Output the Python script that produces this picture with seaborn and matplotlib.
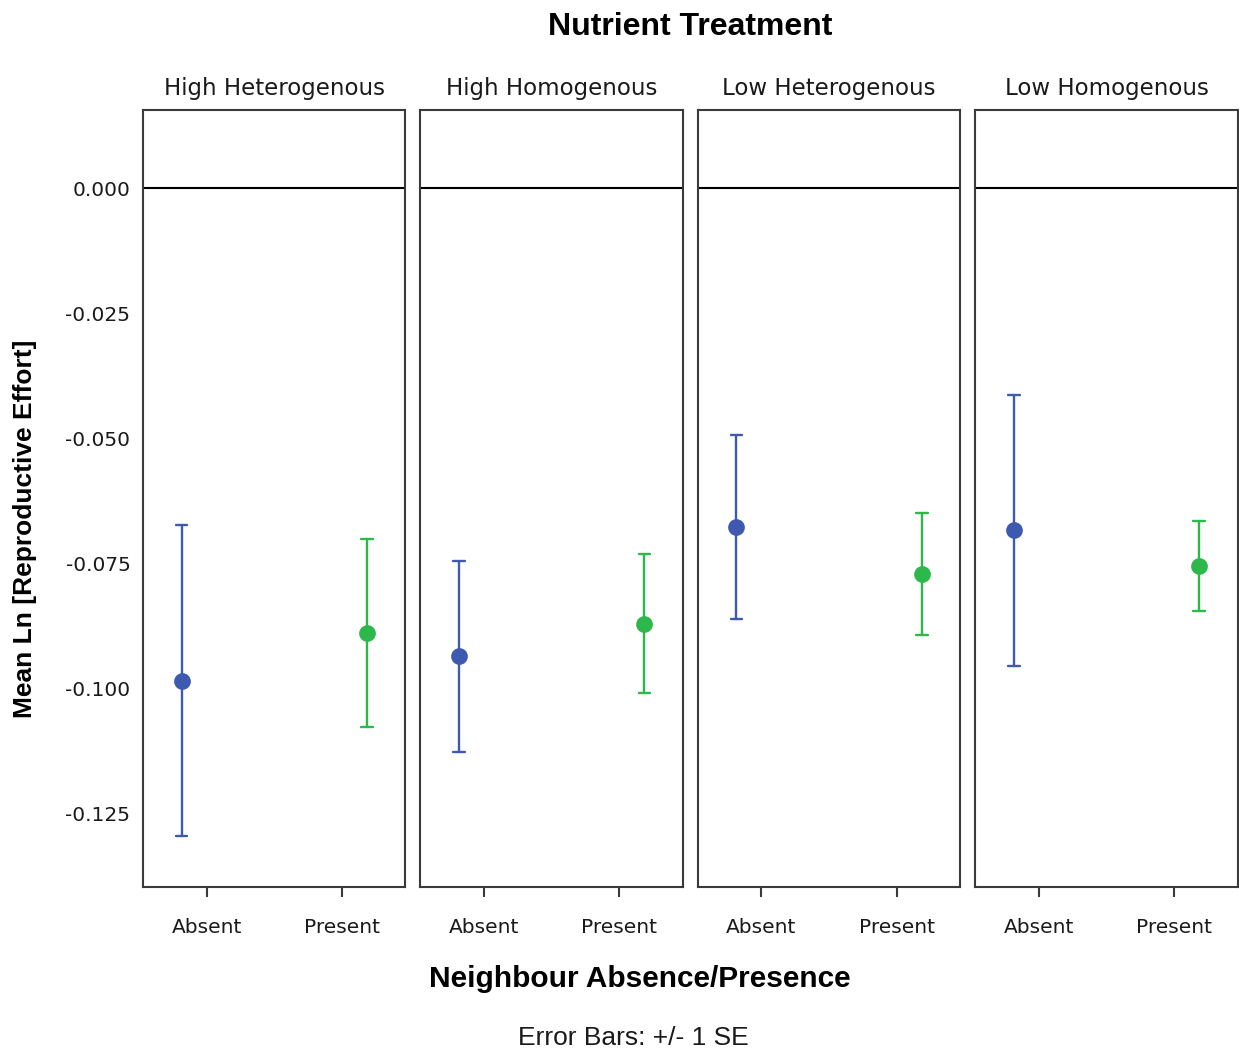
import numpy as np
import pandas as pd
import seaborn as sns
import matplotlib.pyplot as plt

panels = ["High Heterogenous", "High Homogenous", "Low Heterogenous", "Low Homogenous"]
neighbour = ["Absent", "Present"]

absent_mean = [-0.0986, -0.0936, -0.0678, -0.0684]
absent_lower = [-0.1296, -0.1128, -0.0862, -0.0956]
absent_upper = [-0.0674, -0.0746, -0.0494, -0.0414]

present_mean = [-0.0890, -0.0872, -0.0772, -0.0756]
present_lower = [-0.1078, -0.1010, -0.0894, -0.0846]
present_upper = [-0.0702, -0.0732, -0.0650, -0.0666]

colors = {"Absent": "#3d59b0", "Present": "#2cb84a"}

rows = []
for i, p in enumerate(panels):
    for lvl, lo, mu, hi in (("Absent", absent_lower[i], absent_mean[i], absent_upper[i]),
                            ("Present", present_lower[i], present_mean[i], present_upper[i])):
        for v in (lo, mu, hi):
            rows.append({"panel": p, "neighbour": lvl, "value": v})
df = pd.DataFrame(rows)

sns.set_theme(style="white")
plt.rcParams["font.family"] = ["DejaVu Sans"]

g = sns.catplot(
    data=df, x="neighbour", y="value", hue="neighbour", col="panel",
    order=neighbour, hue_order=neighbour, col_order=panels,
    kind="point", estimator="median",
    errorbar=lambda v: (v.min(), v.max()),
    dodge=0.37, palette=colors, capsize=0.085, linestyle="none",
    markersize=10, err_kws={"linewidth": 1.7},
    legend=False, height=5, aspect=0.5, sharey=True,
)
fig = g.figure
fig.set_size_inches(12.39, 10.53)
fig.subplots_adjust(left=0.1154, right=0.999, top=0.8955, bottom=0.1576, wspace=0.057)

g.set_titles("{col_name}", size=16.5, pad=10.5)
g.set_axis_labels("", "")
for k, ax in enumerate(g.axes.flat):
    ax.set_xlim(-0.47, 1.47)
    ax.set_ylim(-0.1398, 0.0156)
    ax.axhline(0, color="black", linewidth=1.5, zorder=0)
    for s in ax.spines.values():
        s.set_visible(True)
        s.set_color("#3a3a3a")
        s.set_linewidth(1.5)
    ax.tick_params(axis="x", which="both", bottom=True, length=7, width=1.5,
                   color="#3a3a3a", labelsize=14.5, pad=15, labelcolor="#1a1a1a")
    ax.tick_params(axis="y", left=False, labelsize=14.5, pad=3, labelcolor="#1a1a1a")
    ax.set_yticks([0.0, -0.025, -0.05, -0.075, -0.1, -0.125])
    ax.set_yticklabels(["0.000", "-0.025", "-0.050", "-0.075", "-0.100", "-0.125"])
    if k > 0:
        ax.tick_params(axis="y", labelleft=False)
    ax.set_xlabel("")
    ax.set_ylabel("")
    ax.title.set_color("#1a1a1a")

fig.text(0.557, 0.9745, "Nutrient Treatment", ha="center", va="center",
         fontsize=23, fontweight="bold", family="Liberation Sans", color="black")
fig.text(0.516, 0.070, "Neighbour Absence/Presence", ha="center", va="center",
         fontsize=21.5, fontweight="bold", family="Liberation Sans", color="black")
fig.text(0.020, 0.4976, "Mean Ln [Reproductive Effort]", ha="center", va="center",
         rotation=90, fontsize=19, fontweight="bold", family="Liberation Sans", color="black")
fig.text(0.511, 0.014, "Error Bars: +/- 1 SE", ha="center", va="center",
         fontsize=19, family="Liberation Sans", color="#1a1a1a")

fig.savefig("out.png", dpi=100)
